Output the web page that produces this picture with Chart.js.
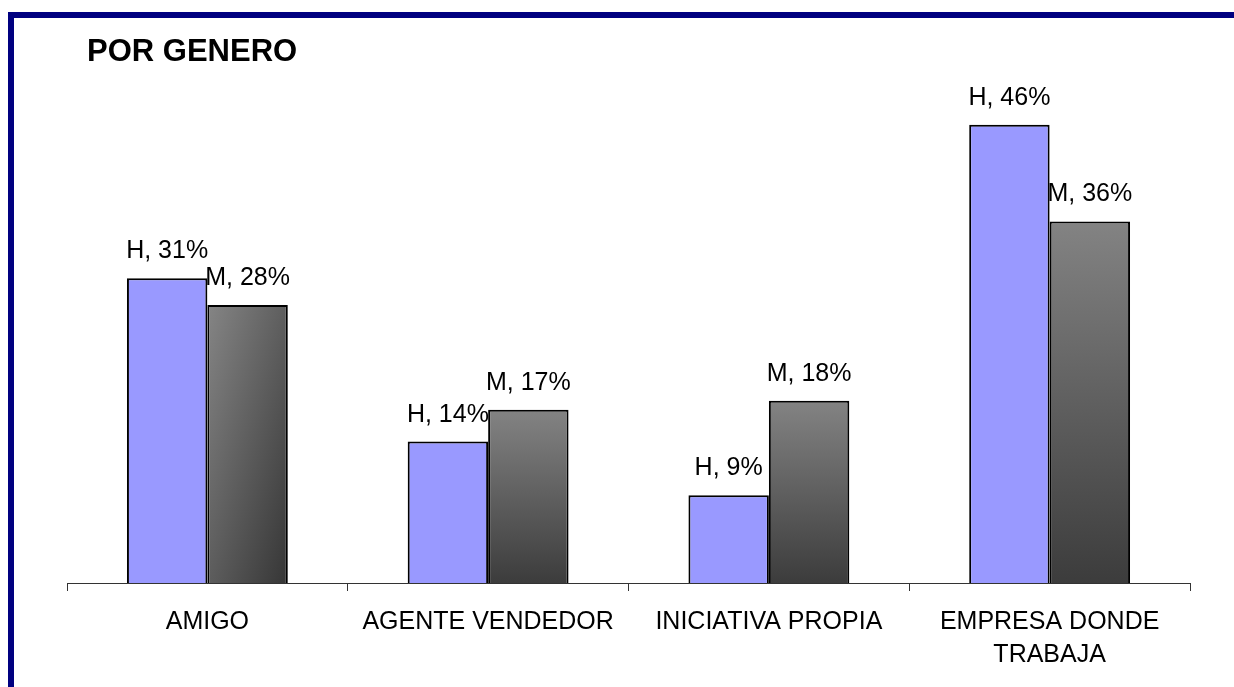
<!DOCTYPE html>
<html>
<head>
<meta charset="utf-8">
<script src="https://cdn.jsdelivr.net/npm/chart.js@4/dist/chart.umd.min.js"></script>
<style>
  body { margin: 0; background: #fff; overflow: hidden; }
  #wrap { position: relative; width: 1234px; height: 687px; }
  #frame { position: absolute; left: 8px; top: 12px; width: 1400px; height: 900px;
           border-left: 6px solid #000080; border-top: 6px solid #000080; }
  #chart { position: absolute; left: 0; top: 0; }
</style>
</head>
<body>
<div id="wrap">
  <div id="frame"></div>
  <canvas id="chart" width="1234" height="687"></canvas>
</div>
<script>
// datos
var categorias = ['AMIGO', 'AGENTE VENDEDOR', 'INICIATIVA PROPIA', ['EMPRESA DONDE', 'TRABAJA']];
var hombres = [30.6, 14.2, 8.8, 46.0];
var mujeres = [27.9, 17.4, 18.3, 36.3];
var series = ['H', 'M'];
var titulo = 'POR GENERO';

var fuente = "'Liberation Sans', Arial, sans-serif";

// degradado gris de las barras M (la primera va en diagonal)
function grisM(ctx) {
    var chart = ctx.chart;
    var area = chart.chartArea;
    if (!area || ctx.type !== 'data') return '#606060';
    var xs = chart.scales.x, ys = chart.scales.y;
    var top = ys.getPixelForValue(ctx.raw), bottom = ys.getPixelForValue(0);
    var c = chart.ctx, g;
    if (ctx.dataIndex === 0) {
        var w = xs.getPixelForValue(1) - xs.getPixelForValue(0);
        var bw = w * 0.573 / 2;
        var left = xs.getPixelForValue(0);
        var h = bottom - top;
        var k = 2 * bw * h / (h * h + bw * bw);
        g = c.createLinearGradient(left, top, left + h * k, top + bw * k);
        g.addColorStop(0, '#858585');
        g.addColorStop(1, '#363636');
    } else {
        g = c.createLinearGradient(0, top, 0, bottom);
        g.addColorStop(0, '#838383');
        g.addColorStop(1, '#3c3c3c');
    }
    return g;
}

var etiquetas = {
    id: 'etiquetas',
    afterDatasetsDraw: function(chart) {
        var c = chart.ctx;
        c.save();
        c.font = '25px ' + fuente;
        c.fillStyle = '#000';
        c.textAlign = 'center';
        c.textBaseline = 'alphabetic';
        chart.data.datasets.forEach(function(ds, i) {
            chart.getDatasetMeta(i).data.forEach(function(bar, j) {
                c.fillText(ds.label + ', ' + Math.round(ds.data[j]) + '%', bar.x, bar.y - 20);
            });
        });
        c.font = 'bold 31px ' + fuente;
        c.textAlign = 'left';
        c.fillText(titulo, 87, 61);
        c.restore();
    }
};

var config = {
    type: 'bar',
    data: {
        labels: categorias,
        datasets: [{
            label: series[0],
            data: hombres,
            backgroundColor: '#9999FF',
            borderColor: '#000',
            borderWidth: 2
        }, {
            label: series[1],
            data: mujeres,
            backgroundColor: grisM,
            borderColor: '#000',
            borderWidth: 2
        }]
    },
    options: {
        responsive: false,
        animation: false,
        categoryPercentage: 0.573,
        barPercentage: 1,
        layout: { padding: { left: 67, right: 44, top: 85, bottom: 0 } },
        plugins: { legend: { display: false }, tooltip: { enabled: false }, title: { display: false } },
        scales: {
            y: { display: false, min: 0, max: 50 },
            x: {
                afterFit: function(s) { s.height = 104; },
                border: { display: true, color: '#333', width: 1 },
                grid: { offset: true, drawOnChartArea: false, drawTicks: true, tickLength: 8, color: '#333' },
                ticks: { color: '#000', padding: 15, font: { family: fuente, size: 25, lineHeight: 1.32 } }
            }
        }
    },
    plugins: [etiquetas]
};

new Chart(document.getElementById('chart').getContext('2d'), config);
</script>
</body>
</html>
